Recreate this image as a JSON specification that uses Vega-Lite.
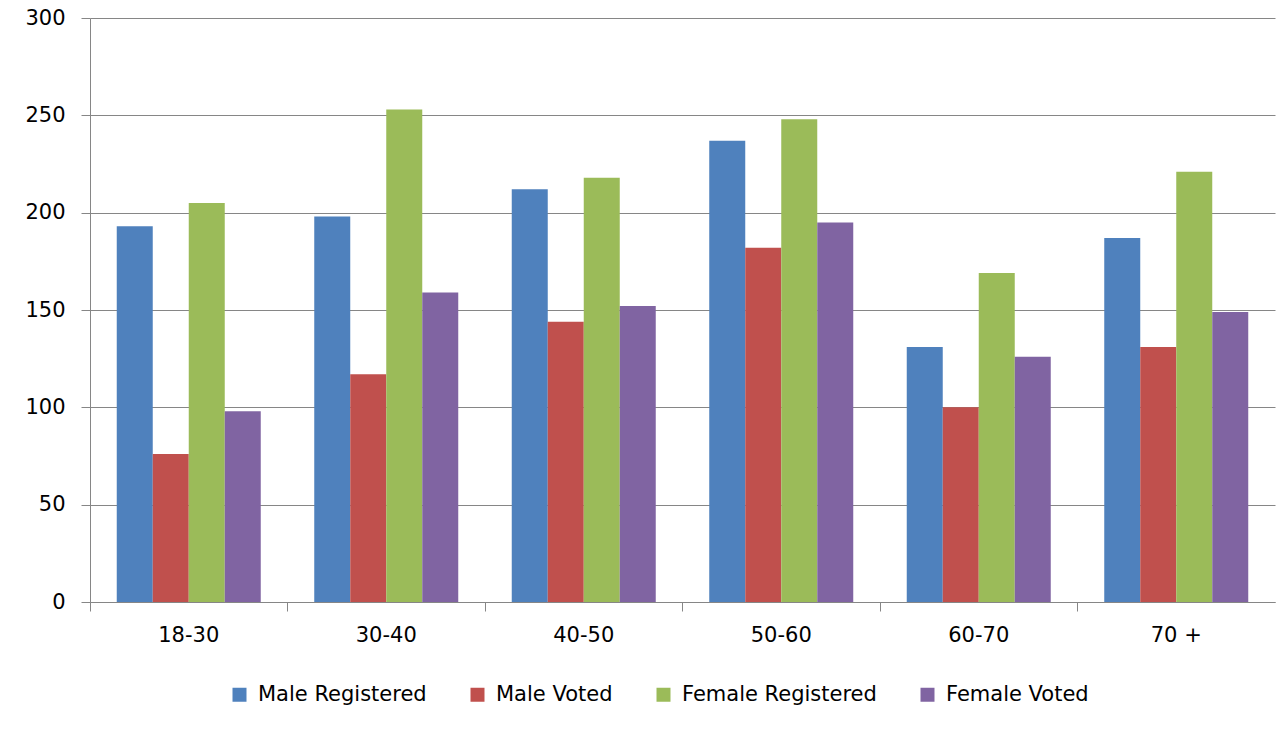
{
  "$schema": "https://vega.github.io/schema/vega-lite/v6.json",
  "width": 1185,
  "height": 584,
  "autosize": {"type": "none"},
  "padding": {"left": 90, "top": 18, "right": 7, "bottom": 127},
  "background": "white",
  "config": {
    "view": {"stroke": null},
    "font": "DejaVu Sans"
  },
  "data": {
    "values": [
      {"age": "18-30", "series": "Male Registered", "value": 193},
      {"age": "18-30", "series": "Male Voted", "value": 76},
      {"age": "18-30", "series": "Female Registered", "value": 205},
      {"age": "18-30", "series": "Female Voted", "value": 98},
      {"age": "30-40", "series": "Male Registered", "value": 198},
      {"age": "30-40", "series": "Male Voted", "value": 117},
      {"age": "30-40", "series": "Female Registered", "value": 253},
      {"age": "30-40", "series": "Female Voted", "value": 159},
      {"age": "40-50", "series": "Male Registered", "value": 212},
      {"age": "40-50", "series": "Male Voted", "value": 144},
      {"age": "40-50", "series": "Female Registered", "value": 218},
      {"age": "40-50", "series": "Female Voted", "value": 152},
      {"age": "50-60", "series": "Male Registered", "value": 237},
      {"age": "50-60", "series": "Male Voted", "value": 182},
      {"age": "50-60", "series": "Female Registered", "value": 248},
      {"age": "50-60", "series": "Female Voted", "value": 195},
      {"age": "60-70", "series": "Male Registered", "value": 131},
      {"age": "60-70", "series": "Male Voted", "value": 100},
      {"age": "60-70", "series": "Female Registered", "value": 169},
      {"age": "60-70", "series": "Female Voted", "value": 126},
      {"age": "70 +", "series": "Male Registered", "value": 187},
      {"age": "70 +", "series": "Male Voted", "value": 131},
      {"age": "70 +", "series": "Female Registered", "value": 221},
      {"age": "70 +", "series": "Female Voted", "value": 149}
    ]
  },
  "mark": {"type": "bar"},
  "encoding": {
    "x": {
      "field": "age",
      "type": "nominal",
      "sort": null,
      "scale": {"paddingInner": 0, "paddingOuter": 0},
      "axis": {
        "title": null,
        "labelAngle": 0,
        "labelFontSize": 21,
        "labelColor": "#000000",
        "labelPadding": 13,
        "bandPosition": 0,
        "tickSize": 9,
        "tickColor": "#868686",
        "domainColor": "#868686",
        "grid": false
      }
    },
    "xOffset": {
      "field": "series",
      "type": "nominal",
      "sort": ["Male Registered", "Male Voted", "Female Registered", "Female Voted"],
      "scale": {"paddingInner": 0, "paddingOuter": 0.743}
    },
    "y": {
      "field": "value",
      "type": "quantitative",
      "scale": {"domain": [0, 300], "nice": false},
      "axis": {
        "title": null,
        "values": [0, 50, 100, 150, 200, 250, 300],
        "labelFontSize": 21,
        "labelColor": "#000000",
        "labelPadding": 16,
        "tickSize": 9,
        "tickColor": "#868686",
        "domainColor": "#868686",
        "gridColor": "#868686",
        "gridWidth": 1,
        "grid": true
      }
    },
    "color": {
      "field": "series",
      "type": "nominal",
      "scale": {
        "domain": ["Male Registered", "Male Voted", "Female Registered", "Female Voted"],
        "range": ["#4F81BD", "#C0504D", "#9BBB59", "#8064A2"]
      },
      "legend": {
        "title": null,
        "orient": "none",
        "direction": "horizontal",
        "legendX": 139,
        "legendY": 666,
        "symbolType": "square",
        "symbolSize": 196,
        "symbolStrokeWidth": 0,
        "labelFontSize": 21,
        "labelLimit": 0,
        "labelColor": "#000000",
        "labelOffset": 8,
        "columnPadding": 40
      }
    }
  }
}
